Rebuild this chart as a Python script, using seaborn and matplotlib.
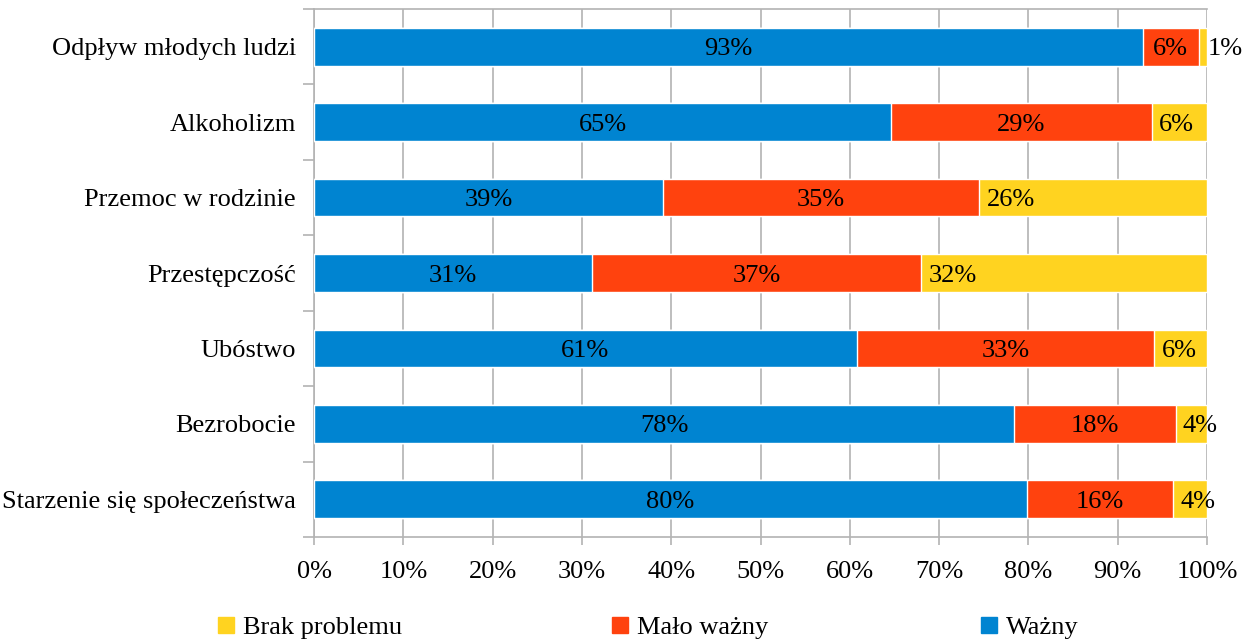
import matplotlib
matplotlib.use("Agg")
import matplotlib.pyplot as plt
import matplotlib.patches as mpatches
from matplotlib.ticker import MultipleLocator, FixedLocator
import seaborn as sns
import pandas as pd

# -------------------------------
# Data (percent of answers)
# -------------------------------
categories = ["Odpływ młodych ludzi", "Alkoholizm", "Przemoc w rodzinie",
              "Przestępczość", "Ubóstwo", "Bezrobocie", "Starzenie się społeczeństwa"]
wazny = [92.8, 64.6, 39.1, 31.1, 60.8, 78.4, 79.8]
malo_wazny = [6.3, 29.2, 35.4, 36.9, 33.3, 18.1, 16.4]
brak_problemu = [0.9, 6.2, 25.5, 32.0, 5.9, 3.5, 3.8]
x_ticks = [0, 10, 20, 30, 40, 50, 60, 70, 80, 90, 100]

c_wazny = "#0084d1"
c_malo = "#ff420e"
c_brak = "#ffd320"

df = pd.DataFrame({"kat": categories, "wazny": wazny,
                   "malo": malo_wazny, "brak": brak_problemu})
df["cum_malo"] = df["wazny"] + df["malo"]
df["cum_brak"] = df["cum_malo"] + df["brak"]

sns.set_style("white")
plt.rcParams["font.family"] = ["Liberation Serif", "DejaVu Serif"]
plt.rcParams["text.color"] = "black"
plt.rcParams["xtick.color"] = "black"
plt.rcParams["ytick.color"] = "black"

fig = plt.figure(figsize=(12.45, 6.41), dpi=100)
ax = fig.add_axes([314 / 1245, 1 - 537 / 641, (1207 - 314) / 1245, (537 - 9) / 641])

# stacked bars: draw totals first, then overlay
sns.barplot(data=df, y="kat", x="cum_brak", color=c_brak, width=0.5,
            orient="h", ax=ax, saturation=1, zorder=3)
sns.barplot(data=df, y="kat", x="cum_malo", color=c_malo, width=0.5,
            orient="h", ax=ax, saturation=1, zorder=3)
sns.barplot(data=df, y="kat", x="wazny", color=c_wazny, width=0.5,
            orient="h", ax=ax, saturation=1, zorder=3)

fs = 19
lab = dict(va="center_baseline", fontsize=fs, color="black", zorder=5)
for i, row in df.iterrows():
    ax.text(row["wazny"] / 2, i, f"{row['wazny']:.0f}%", ha="center", **lab)
    ax.text(row["wazny"] + row["malo"] / 2, i, f"{row['malo']:.0f}%", ha="center", **lab)
    if row["brak"] < 2:
        ax.text(row["cum_brak"] + 0.1, i, f"{row['brak']:.0f}%", ha="left", **lab)
    else:
        ax.text(row["cum_malo"] + 0.8, i, f"{row['brak']:.0f}%", ha="left", **lab)

ax.set_xlim(0, 100)
ax.set_ylim(len(categories) - 0.5, -0.5)
ax.xaxis.set_major_locator(FixedLocator(x_ticks))
ax.set_xticklabels([f"{t}%" for t in x_ticks])
ax.yaxis.set_minor_locator(MultipleLocator(1, offset=0.5))
ax.grid(axis="x", color="#b3b3b3", linewidth=1.2, zorder=0)
ax.set_axisbelow(True)
ax.set_xlabel("")
ax.set_ylabel("")

for s in ax.spines.values():
    s.set_color("#b3b3b3")
    s.set_linewidth(1.2)
    s.set_visible(True)
ax.spines["right"].set_visible(False)

ax.tick_params(axis="x", which="major", length=6, color="#b3b3b3", width=1.2,
               labelsize=fs, pad=11, bottom=True, labelcolor="black")
ax.tick_params(axis="y", which="major", length=0, labelsize=fs, pad=13, labelcolor="black")
ax.tick_params(axis="y", which="minor", length=8, color="#b3b3b3", width=1.2, left=True)

# legend, one entry at a time along the bottom
entries = [("Brak problemu", c_brak, 218), ("Mało ważny", c_malo, 612), ("Ważny", c_wazny, 981)]
for label, col, xpix in entries:
    h = mpatches.Patch(color=col, label=label)
    fig.legend(handles=[h], loc="center left", bbox_to_anchor=(xpix / 1245, 1 - 628 / 641),
               frameon=False, fontsize=fs, handlelength=0.6, handleheight=0.6,
               handletextpad=0.35, borderaxespad=0, borderpad=0)

fig.savefig("out.png", dpi=100)
